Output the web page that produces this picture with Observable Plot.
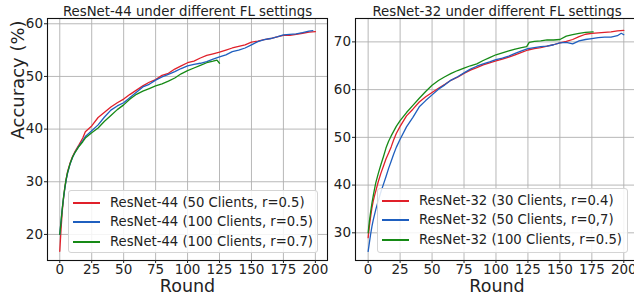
<!DOCTYPE html>
<html>
<head>
<meta charset="utf-8">
<script src="https://cdn.jsdelivr.net/npm/d3@7"></script>
<script src="https://cdn.jsdelivr.net/npm/@observablehq/plot@0.6"></script>
<style>
  html, body { margin: 0; padding: 0; background: #fff; }
  #chart { position: relative; width: 634px; height: 295px; overflow: hidden; background: #fff; font-family: "DejaVu Sans", sans-serif; }
  #chart > svg, #chart > .legend { position: absolute; }
  .legend { background: rgba(255,255,255,0.85); border: 1px solid #d4d4d4; border-radius: 3px; box-sizing: border-box; }
  .legend .row { position: absolute; left: 0; width: 100%; height: 16px; }
  .legend .sw { position: absolute; width: 27px; height: 2px; top: 7px; left: 4px; }
  .legend .lb { position: absolute; font-size: 13.2px; color: #222; white-space: nowrap; line-height: 16px; top: 0; left: 41px; }
</style>
</head>
<body>
<div id="chart"></div>
<script>
// ---------- Data: left panel (ResNet-44) ----------
const titleLeft = "ResNet-44 under different FL settings";
const titleRight = "ResNet-32 under different FL settings";
const xLabel = "Round";
const yLabel = "Accuracy (%)";
const xTicks = [0, 25, 50, 75, 100, 125, 150, 175, 200];
const yTicksLeft = [20, 30, 40, 50, 60];
const yTicksRight = [30, 40, 50, 60, 70];

const labelsLeft = ["ResNet-44 (50 Clients, r=0.5)", "ResNet-44 (100 Clients, r=0.5)", "ResNet-44 (100 Clients, r=0.7)"];
const labelsRight = ["ResNet-32 (30 Clients, r=0.4)", "ResNet-32 (50 Clients, r=0,7)", "ResNet-32 (100 Clients, r=0.5)"];
const colors = ["#e0202a", "#1f5fbf", "#168a16"];

const roundsL1 = [0,1,2,3,4,5,6,8,10,12,15,18,20,25,30,35,40,45,50,55,60,65,70,75,80,85,90,95,100,105,110,115,120,125,130,135,140,145,150,155,160,165,170,175,180,185,190,195,200];
const accL1 = [16.8,21,24.5,27,29,30.5,31.8,33.5,34.8,35.8,37,38.3,39.5,40.6,42.2,43.2,44.2,45.0,45.7,46.6,47.4,48.2,48.9,49.4,50.2,50.6,51.4,52.0,52.6,52.9,53.5,54.0,54.3,54.6,55.0,55.4,55.7,56.0,56.5,56.7,57.0,57.2,57.5,57.8,57.8,58.0,58.2,58.4,58.5];

const roundsL2 = [0,1,2,3,4,5,6,8,10,12,15,18,20,25,30,35,40,45,50,55,60,65,70,75,80,85,90,95,100,105,110,115,120,125,130,135,140,145,150,155,160,165,170,175,180,185,190,195,198];
const accL2 = [20,22.5,25,27,28.8,30.3,31.5,33.3,34.6,35.6,36.8,37.8,38.6,39.7,40.8,42.3,43.6,44.4,45.0,46.0,47.0,48.0,48.5,49.3,49.9,50.4,50.9,51.5,52.0,52.3,52.5,52.8,53.3,53.7,54.1,54.7,55.0,55.4,56.0,56.6,57.0,57.2,57.5,57.9,58.0,58.1,58.3,58.6,58.7];

const roundsL3 = [0,1,2,3,4,5,6,8,10,12,15,18,20,25,30,35,40,45,50,55,60,65,70,75,80,85,90,95,100,105,110,115,120,123,125];
const accL3 = [20,22.5,25,27.2,29,30.5,31.7,33.4,34.7,35.6,36.7,37.6,38.3,39.3,40.2,41.5,42.6,43.7,44.6,45.7,46.6,47.2,47.7,48.2,48.6,49.1,49.7,50.5,51.1,51.6,52.1,52.6,52.9,53.1,52.5];

// ---------- Data: right panel (ResNet-32) ----------
const roundsR1 = [0,1,2,3,4,5,6,8,10,12,14,16,18,20,22,25,30,35,40,45,50,55,60,65,70,75,80,85,90,95,100,105,110,115,120,125,130,135,140,145,150,155,160,165,170,175,180,185,190,195,200];
const accR1 = [29,31.5,33.5,35.3,36.7,37.8,38.8,40.8,42.5,44,45.5,46.7,48,49.5,50.8,52.3,54.5,55.9,57.4,58.5,59.4,60.3,61.1,62.0,62.6,63.4,64.1,64.6,65.2,65.6,66.0,66.4,66.8,67.3,67.8,68.3,68.6,68.8,69.1,69.4,69.8,70.1,70.5,71.1,71.6,71.8,71.9,72.0,72.1,72.3,72.4];

const roundsR2 = [0,1,2,3,4,5,6,8,10,12,14,16,18,20,22,25,30,35,40,45,50,55,60,65,70,75,80,85,90,95,100,105,110,115,120,125,130,135,140,145,150,155,160,165,170,175,180,185,190,195,198,200];
const accR2 = [26.1,28,29.8,31.4,32.7,33.8,34.9,36.8,38.6,40.2,41.8,43.5,45,46.5,47.9,49.6,52.2,54.2,56.4,57.7,58.9,60.1,61.0,62.0,62.7,63.5,64.3,64.9,65.4,65.8,66.3,66.6,67.0,67.6,68.1,68.6,68.8,69.0,69.1,69.4,69.8,69.9,69.6,70.2,70.5,70.7,70.9,71.0,71.0,71.3,71.8,71.5];

const roundsR3 = [0,1,2,3,4,5,6,8,10,12,14,16,18,20,22,25,30,35,40,45,50,55,60,65,70,75,80,85,90,95,100,105,110,115,120,124,126,130,135,140,145,150,155,160,165,170,176];
const accR3 = [30,32.5,34.5,36.3,37.8,39.2,40.5,42.5,44.3,46,47.8,49.2,50.3,51.3,52.3,53.5,55.2,56.7,58.2,59.6,60.9,61.9,62.7,63.4,64.0,64.5,65.0,65.4,66.1,66.7,67.3,67.7,68.1,68.5,68.8,69.0,69.9,70.1,70.2,70.4,70.4,70.5,71.2,71.5,71.8,72.0,72.1];

// ---------- Build ----------
function toRows(rounds, acc, s) { return rounds.map((r, i) => ({round: r, acc: acc[i], s})); }

function panel({title, xDomain, yDomain, yTicks, series, width, marginLeft, marginRight, showYLabel}) {
  const rows = series.flatMap(d => toRows(d.rounds, d.acc, d.s));
  const marks = [
    Plot.gridX(xTicks, {stroke: "#b0b0b0", strokeOpacity: 1, strokeWidth: 0.9}),
    Plot.gridY(yTicks, {stroke: "#b0b0b0", strokeOpacity: 1, strokeWidth: 0.9}),
    Plot.line(rows, {x: "round", y: "acc", z: "s", stroke: "s", strokeWidth: 1.3}),
    Plot.frame({stroke: "#111", strokeWidth: 1.1}),
    Plot.axisX({ticks: xTicks, tickSize: 3, tickPadding: 0.5, fontSize: 13.5, label: null}),
    Plot.axisY({ticks: yTicks, tickSize: 3, tickPadding: 1.5, fontSize: 13.5, label: null}),
    Plot.text([title], {frameAnchor: "top", dy: -3, lineAnchor: "bottom", fontSize: 13.3}),
    Plot.text([xLabel], {frameAnchor: "bottom", dy: 31, lineAnchor: "bottom", fontSize: 17.5})
  ];
  if (showYLabel) marks.push(Plot.text([yLabel], {frameAnchor: "left", dx: -29.5, rotate: -90, lineAnchor: "middle", fontSize: 18}));
  return Plot.plot({
    width, height: 295,
    marginTop: 18, marginBottom: 35, marginLeft, marginRight,
    style: {fontFamily: "DejaVu Sans, sans-serif", fontSize: "13px", color: "#222", background: "transparent", overflow: "visible"},
    x: {domain: xDomain},
    y: {domain: yDomain},
    color: {domain: series.map(d => d.s), range: colors},
    marks
  });
}

function legend(labels, left, top, width, height) {
  const div = document.createElement("div");
  div.className = "legend";
  Object.assign(div.style, {left: left + "px", top: top + "px", width: width + "px", height: height + "px"});
  labels.forEach((lab, i) => {
    const row = document.createElement("div");
    row.className = "row";
    row.style.top = Math.round(4 + i * 19.4) + "px";
    const sw = document.createElement("div");
    sw.className = "sw";
    sw.style.backgroundColor = colors[i];
    const lb = document.createElement("div");
    lb.className = "lb";
    lb.textContent = lab;
    row.appendChild(sw); row.appendChild(lb);
    div.appendChild(row);
  });
  return div;
}

const chart = document.getElementById("chart");
const left = panel({
  title: titleLeft, xDomain: [-9.6, 209.5], yDomain: [15.05, 61.0], yTicks: yTicksLeft,
  series: [
    {s: labelsLeft[0], rounds: roundsL1, acc: accL1},
    {s: labelsLeft[1], rounds: roundsL2, acc: accL2},
    {s: labelsLeft[2], rounds: roundsL3, acc: accL3}
  ],
  width: 330, marginLeft: 47, marginRight: 3, showYLabel: true
});
left.style.left = "0px"; left.style.top = "0px";
chart.appendChild(left);

const right = panel({
  title: titleRight, xDomain: [-9.9, 211.5], yDomain: [24.2, 74.9], yTicks: yTicksRight,
  series: [
    {s: labelsRight[0], rounds: roundsR1, acc: accR1},
    {s: labelsRight[1], rounds: roundsR2, acc: accR2},
    {s: labelsRight[2], rounds: roundsR3, acc: accR3}
  ],
  width: 310, marginLeft: 27, marginRight: 0, showYLabel: false
});
right.style.left = "328px"; right.style.top = "0px";
chart.appendChild(right);

chart.appendChild(legend(labelsLeft, 68, 190, 250, 63));
chart.appendChild(legend(labelsRight, 377, 188, 251, 65));
</script>
</body>
</html>
